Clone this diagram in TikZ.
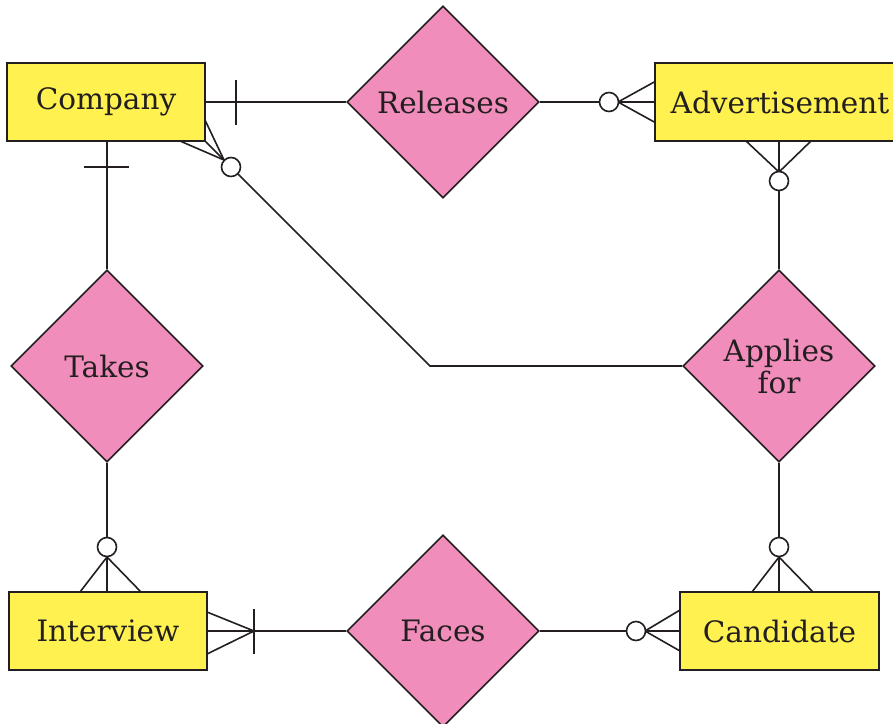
\documentclass[tikz,border=0pt]{standalone}
\usepackage{fontspec}
\setmainfont{DejaVu Serif}
\usetikzlibrary{shapes.geometric,calc}
\definecolor{ink}{RGB}{35,31,32}
\definecolor{entfill}{RGB}{255,242,80}
\definecolor{relfill}{RGB}{241,141,187}
\begin{document}
\begin{tikzpicture}[x=1pt,y=-1pt,
  entity/.style={draw=ink, fill=entfill, line width=1.6pt, rectangle, inner sep=0pt,
    minimum height=78pt, font=\fontsize{29.5}{34}\selectfont, text=ink},
  relation/.style={draw=ink, fill=relfill, line width=1.6pt, diamond, inner sep=0pt,
    minimum width=192pt, minimum height=192pt, font=\fontsize{29.5}{34}\selectfont,
    text=ink, align=center},
  conn/.style={draw=ink, line width=1.6pt},
  knot/.style={circle, draw=ink, fill=white, line width=1.6pt, minimum size=19pt, inner sep=0pt}]
\useasboundingbox (0,0) rectangle (893,723);
\clip (0,0) rectangle (893,723);
\fill[white] (0,0) rectangle (893,723);

% entities
\node[entity, minimum width=198pt] (company) at (106,102) {Company};
\node[entity, minimum width=250pt] (advert) at (780,102) {Advertisement};
\node[entity, minimum width=198pt] (interview) at (108,631) {Interview};
\node[entity, minimum width=199pt] (candidate) at (779.5,631) {Candidate};

% relationships
\node[relation] (releases) at (443,102) {Releases};
\node[relation] (takes) at (107,366) {Takes};
\node[relation] (applies) at (779,366) {Applies\\[-2pt]for};
\node[relation] (faces) at (443,631) {Faces};

% helper coordinates
\coordinate (bend) at (430,366);

% Company -- Releases (one)
\draw[conn] (company.east) -- (releases.west);
\draw[conn] ($(company.east)+(30,-22)$) -- ($(company.east)+(30,23)$);

% Releases -- Advertisement (zero or many)
\draw[conn] (releases.east) -- (advert.west);
\draw[conn] (advert.west |- 0,82) -- (618,102) -- (advert.west |- 0,122);

% Advertisement -- Applies for (zero or many)
\draw[conn] (applies.north) -- (applies.north |- advert.south);
\draw[conn] (746,141) -- (779,172) -- (811,141);

% Company -- Applies for (zero or many)
\draw[conn] (applies.west) -- (bend) -- (company.south east);
\draw[conn] (205,120) -- (224,160) -- (180,141);

% Company -- Takes (one)
\draw[conn] (takes.north) -- (takes.north |- company.south);
\draw[conn] (84,167) -- (129,167);

% Takes -- Interview (zero or many)
\draw[conn] (takes.south) -- (takes.south |- interview.north);
\draw[conn] (80,592) -- (107,557) -- (141,592);

% Interview -- Faces (one or many)
\draw[conn] (faces.west) -- (interview.east |- faces.west);
\draw[conn] (207,612) -- (254,631) -- (207,654);
\draw[conn] (254,609) -- (254,654);

% Faces -- Candidate (zero or many)
\draw[conn] (faces.east) -- (candidate.west |- faces.east);
\draw[conn] (680,610) -- (645,631) -- (680,651);

% Applies for -- Candidate (zero or many)
\draw[conn] (applies.south) -- (applies.south |- candidate.north);
\draw[conn] (752,592) -- (779,557) -- (813,592);

% circles (zero)
\node[knot] (k1) at (609,102) {};
\node[knot] (k2) at (779,181) {};
\node[knot] (k3) at (231,167) {};
\node[knot] (k4) at (107,547) {};
\node[knot] (k5) at (636,631) {};
\node[knot] (k6) at (779,547) {};
\end{tikzpicture}
\end{document}
